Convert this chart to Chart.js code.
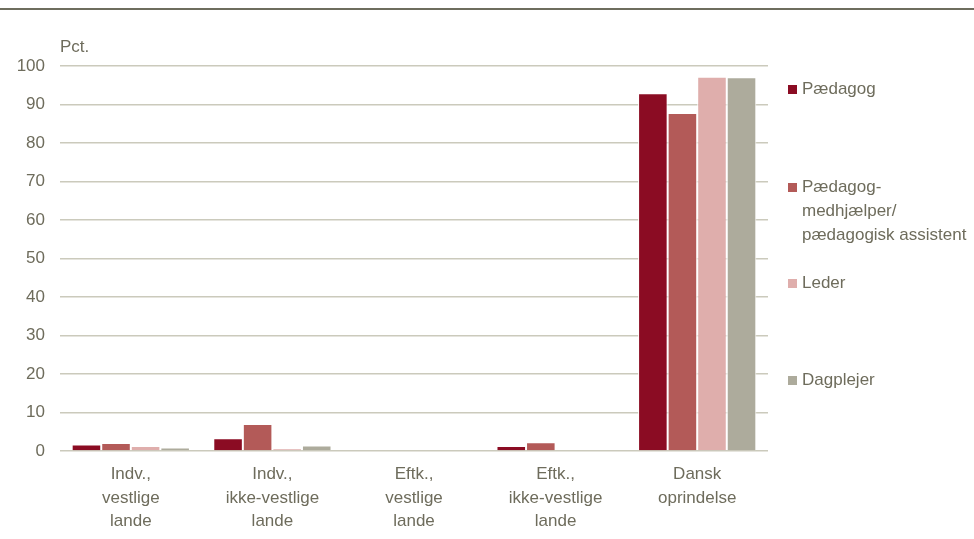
<!DOCTYPE html>
<html>
<head>
<meta charset="utf-8">
<script src="https://cdn.jsdelivr.net/npm/chart.js@4/dist/chart.umd.min.js"></script>
<style>
  html,body{margin:0;padding:0;background:#fff;}
  #wrap{position:relative;width:974px;height:539px;overflow:hidden;}
  #rule{position:absolute;left:0;top:8px;width:974px;height:2px;background:#6e6d5e;}
  canvas{position:absolute;left:0;top:0;}
  .lg{position:absolute;left:788px;font-family:"Liberation Sans Narrow","Arial Narrow","Liberation Sans",sans-serif;font-size:17px;color:#6e6c5c;line-height:24px;}
  .lg .sw{position:absolute;left:0;top:8px;width:9px;height:9px;}
  .lg .tx{margin-left:14px;white-space:nowrap;}
</style>
</head>
<body>
<div id="wrap">
  <canvas id="c" width="974" height="539"></canvas>
  <div id="rule"></div>
  <div id="legend"></div>
</div>
<script>
const categories = [
  ["Indv.,", "vestlige", "lande"],
  ["Indv.,", "ikke-vestlige", "lande"],
  ["Eftk.,", "vestlige", "lande"],
  ["Eftk.,", "ikke-vestlige", "lande"],
  ["Dansk", "oprindelse"]
];
const paedagog     = [1.7, 3.3, 0, 1.3, 92.9];
const medhjaelper  = [2.1, 7.0, 0, 2.3, 87.8];
const leder        = [1.3, 0.7, 0, 0, 97.2];
const dagplejer    = [0.9, 1.4, 0, 0, 97.1];
const seriesNames  = ["Pædagog", "Pædagog-\nmedhjælper/\npædagogisk assistent", "Leder", "Dagplejer"];
const seriesColors = ["#8b0c23", "#b35a58", "#dfaeac", "#adab9c"];
const yTicks = [0, 10, 20, 30, 40, 50, 60, 70, 80, 90, 100];

const FONT = '"Liberation Sans Narrow","Arial Narrow","Liberation Sans",sans-serif';
const TXT = '#6e6c5c';

const unitPlugin = {
  id: 'unitLabel',
  afterDraw(chart) {
    const ctx = chart.ctx;
    ctx.save();
    ctx.font = '17px ' + FONT;
    ctx.fillStyle = TXT;
    ctx.textAlign = 'left';
    ctx.textBaseline = 'middle';
    ctx.fillText('Pct.', chart.chartArea.left, chart.chartArea.top - 19);
    ctx.restore();
  }
};

const data = {
  labels: categories,
  datasets: [paedagog, medhjaelper, leder, dagplejer].map((vals, i) => ({
    label: seriesNames[i],
    data: vals,
    backgroundColor: seriesColors[i],
    borderColor: '#ffffff',
    borderWidth: 1,
    borderSkipped: 'bottom',
    categoryPercentage: 0.835,
    barPercentage: 1.0
  }))
};

new Chart(document.getElementById('c'), {
  type: 'bar',
  data,
  options: {
    responsive: false,
    animation: false,
    layout: { padding: { top: 66, right: 206, left: 0, bottom: 0 } },
    plugins: { legend: { display: false }, tooltip: { enabled: false } },
    scales: {
      x: {
        grid: { display: false, drawTicks: false },
        border: { display: false },
        ticks: { color: TXT, font: { family: FONT, size: 17, lineHeight: 1.38 }, padding: 12, maxRotation: 0, autoSkip: false },
        afterFit(s) { s.height = 88; }
      },
      y: {
        min: 0, max: 100,
        afterBuildTicks(s) { s.ticks = yTicks.map(v => ({ value: v })); },
        grid: { color: '#cbcabc', lineWidth: 1.5, drawTicks: false },
        border: { display: false },
        ticks: { color: TXT, font: { family: FONT, size: 17 }, padding: 15 },
        afterFit(s) { s.width = 60; }
      }
    }
  },
  plugins: [unitPlugin]
});

// HTML legend
const legendTops = [77, 175, 271, 368];
const lg = document.getElementById('legend');
seriesNames.forEach((n, i) => {
  const d = document.createElement('div');
  d.className = 'lg';
  d.style.top = legendTops[i] + 'px';
  const sw = document.createElement('div');
  sw.className = 'sw';
  sw.style.background = seriesColors[i];
  const tx = document.createElement('div');
  tx.className = 'tx';
  tx.innerHTML = n.split('\n').join('<br>');
  d.appendChild(sw); d.appendChild(tx);
  lg.appendChild(d);
});
</script>
</body>
</html>
